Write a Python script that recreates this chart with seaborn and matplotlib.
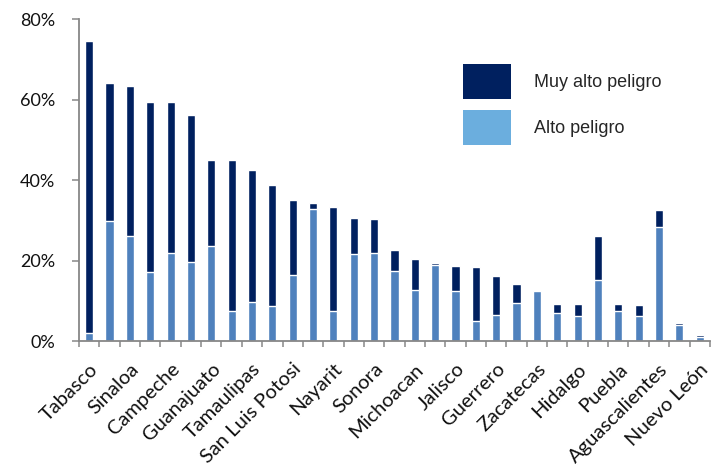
import pandas as pd
import seaborn as sns
import matplotlib.pyplot as plt
import matplotlib.ticker as ticker
from matplotlib.patches import Patch

# Data; hidden labels sit on the even positions
states = ['Tabasco', 'Veracruz', 'Sinaloa', 'Chiapas', 'Campeche', 'Oaxaca',
          'Guanajuato', 'Quintana Roo', 'Tamaulipas', 'Yucatán', 'San Luis Potosi',
          'Morelos', 'Nayarit', 'Colima', 'Sonora', 'Durango', 'Michoacan',
          'Chihuahua', 'Jalisco', 'Coahuila', 'Guerrero', 'Baja California',
          'Zacatecas', 'Baja California Sur', 'Hidalgo', 'Querétaro', 'Puebla',
          'Tlaxcala', 'Aguascalientes', 'Estado de México', 'Nuevo León']
total = [74.5, 64.1, 63.4, 59.4, 59.4, 56.3, 45.0, 44.9, 42.4, 38.7, 35.1,
         34.4, 33.4, 30.6, 30.3, 22.6, 20.3, 19.5, 18.6, 18.3, 16.2, 14.2,
         12.5, 9.3, 9.3, 26.2, 9.1, 8.9, 32.5, 4.4, 1.5]
alto = [2.0, 29.9, 26.1, 17.1, 21.8, 19.6, 23.6, 7.5, 9.6, 8.6, 16.5,
        32.9, 7.4, 21.6, 21.9, 17.4, 12.6, 18.8, 12.4, 4.9, 6.4, 9.4,
        12.5, 6.9, 6.1, 15.1, 7.4, 6.3, 28.3, 3.9, 1.0]

df = pd.DataFrame({'estado': states, 'total': total, 'alto': alto})
df['total'] = df['total'] / 100
df['alto'] = df['alto'] / 100

dark = '#00205F'
light = '#4F81BD'
legend_light = '#6BAEDE'
axis_gray = '#878787'

sns.set_theme(style='white')
plt.rcParams['font.family'] = ['Lato', 'DejaVu Sans']

fig = plt.figure(figsize=(7.12, 4.76), dpi=100)
ax = fig.add_axes([0.111, 0.2836, 0.886, 0.676])

# stacked look: full bar in dark, lower part in light blue on top of it
sns.barplot(data=df, x='estado', y='total', color=dark, width=0.4,
            saturation=1, ax=ax)
sns.barplot(data=df, x='estado', y='alto', color=light, width=0.4,
            saturation=1, ax=ax)

ax.set_xlim(-0.5, len(states) - 0.5)
ax.set_ylim(0, 0.8)
ax.set_xlabel('')
ax.set_ylabel('')

# y axis
ax.yaxis.set_major_locator(ticker.MultipleLocator(0.2))
ax.yaxis.set_major_formatter(ticker.PercentFormatter(1.0, decimals=0))
ax.tick_params(axis='y', left=True, length=5, width=1.1, color=axis_gray,
               labelsize=13, pad=12, labelcolor='#111111')

# x axis: tick marks between categories, every other label shown
ax.set_xticks(range(0, len(states), 2))
ax.set_xticklabels(states[::2], rotation=45, ha='right',
                   rotation_mode='anchor', fontsize=14.5, color='#111111')
ax.set_xticks([i - 0.5 for i in range(len(states) + 1)], minor=True)
ax.tick_params(axis='x', which='major', length=0, pad=14)
ax.tick_params(axis='x', which='minor', bottom=True, length=4, width=1.1,
               color=axis_gray)

sns.despine(ax=ax, top=True, right=True)
for side in ['left', 'bottom']:
    ax.spines[side].set_color(axis_gray)
    ax.spines[side].set_linewidth(1.3)

handles = [Patch(facecolor=dark, edgecolor='none', label='Muy alto peligro'),
           Patch(facecolor=legend_light, edgecolor='none', label='Alto peligro')]
fig.legend(handles=handles, loc='upper left', bbox_to_anchor=(0.650, 0.866),
           frameon=False, borderpad=0, borderaxespad=0,
           handlelength=2.67, handleheight=2.61, labelspacing=0.6,
           handletextpad=1.28, prop={'family': 'Liberation Sans', 'size': 13})

fig.savefig('out.png', dpi=100)
